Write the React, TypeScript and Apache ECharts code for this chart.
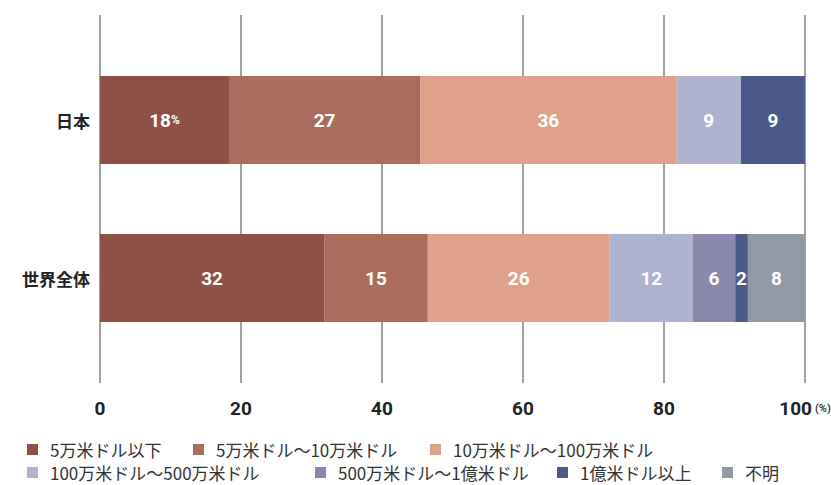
import React, { useEffect, useRef } from "react";
import * as echarts from "echarts";

const categories = ["日本", "世界全体"];
const seriesNames = [
  "5万米ドル以下",
  "5万米ドル～10万米ドル",
  "10万米ドル～100万米ドル",
  "100万米ドル～500万米ドル",
  "500万米ドル～1億米ドル",
  "1億米ドル以上",
  "不明",
];
const under5 = [18.3, 31.8];
const from5to10 = [27.1, 14.7];
const from10to100 = [36.4, 25.8];
const from100to500 = [9.1, 11.8];
const from500to1oku = [0, 6.0];
const over1oku = [9.1, 1.8];
const unknown = [0, 8.1];
const seriesValues = [under5, from5to10, from10to100, from100to500, from500to1oku, over1oku, unknown];
const colors = ["#8F5147", "#AA6C5C", "#E0A18B", "#B0B3CF", "#8A88AD", "#4B5A8A", "#9299A6"];

const numFont = "Roboto, 'Liberation Sans Narrow', sans-serif";
const jpFont = "'Noto Sans CJK JP', sans-serif";

// legend item placement (left, top) in chart pixels
const legendPos = [
  [27, 441],
  [193, 441],
  [430, 441],
  [27, 464],
  [315, 464],
  [557, 464],
  [722, 464],
];

export default function App() {
  const ref = useRef<HTMLDivElement>(null);
  useEffect(() => {
    const chart = echarts.init(ref.current!, null, { renderer: "svg" });
    const series = seriesValues.map((vals, si) => ({
      name: seriesNames[si],
      type: "bar",
      stack: "total",
      xAxisIndex: 1,
      yAxisIndex: 1,
      barWidth: 88,
      itemStyle: { color: colors[si] },
      label: {
        show: true,
        position: "inside",
        color: "#fff",
        fontFamily: numFont,
        fontWeight: "bold",
        fontSize: 19,
        formatter: (p: any) => {
          if (!p.value) return "";
          const r = Math.round(p.value);
          if (si === 0 && p.dataIndex === 0) return `${r}{pct|%}`;
          return `${r}`;
        },
        rich: {
          pct: { color: "#fff", fontFamily: numFont, fontWeight: "bold", fontSize: 12 },
        },
      },
      data: vals,
    }));
    const legends = seriesNames.map((n, i) => ({
      data: [n],
      left: legendPos[i][0],
      top: legendPos[i][1],
      padding: 0,
      icon: "rect",
      itemWidth: 11,
      itemHeight: 11,
      selectedMode: false,
      textStyle: { color: "#333", fontFamily: jpFont, fontSize: 17, padding: [0, 0, 0, 7] },
    }));
    chart.setOption({
      animation: false,
      grid: [
        { left: 100, right: 26, top: 15, bottom: 102, outerBoundsMode: "none", containLabel: false },
        { left: 100, right: 26, top: 41, bottom: 128, outerBoundsMode: "none", containLabel: false },
      ],
      xAxis: [
        {
          gridIndex: 0,
          type: "value",
          min: 0,
          max: 100,
          interval: 20,
          axisLine: { show: false },
          axisTick: { show: false },
          splitLine: { show: true, lineStyle: { color: "#8a8a8a", width: 1.6 } },
          axisLabel: {
            margin: 16,
            color: "#222",
            fontFamily: numFont,
            fontWeight: "bold",
            fontSize: 19,
            formatter: (v: number) => (v === 100 ? `${v}{u|(%)}` : `${v}`),
            rich: { u: { color: "#444", fontFamily: numFont, fontSize: 11, padding: [0, 0, 0, 3] } },
          },
        },
        {
          gridIndex: 1,
          type: "value",
          min: 0,
          max: 100,
          show: false,
          splitLine: { show: false },
        },
      ],
      yAxis: [
        {
          gridIndex: 0,
          type: "category",
          data: categories,
          show: false,
        },
        {
          gridIndex: 1,
          type: "category",
          data: categories,
          inverse: true,
          axisLine: { show: false },
          axisTick: { show: false },
          axisLabel: {
            margin: 10,
            color: "#222",
            fontFamily: jpFont,
            fontWeight: "bold",
            fontSize: 17,
          },
        },
      ],
      legend: legends,
      series,
    });
    return () => chart.dispose();
  }, []);
  return (
    <div
      ref={ref}
      style={{ position: "absolute", left: 0, top: 0, width: 831, height: 485, background: "#fff" }}
    />
  );
}
